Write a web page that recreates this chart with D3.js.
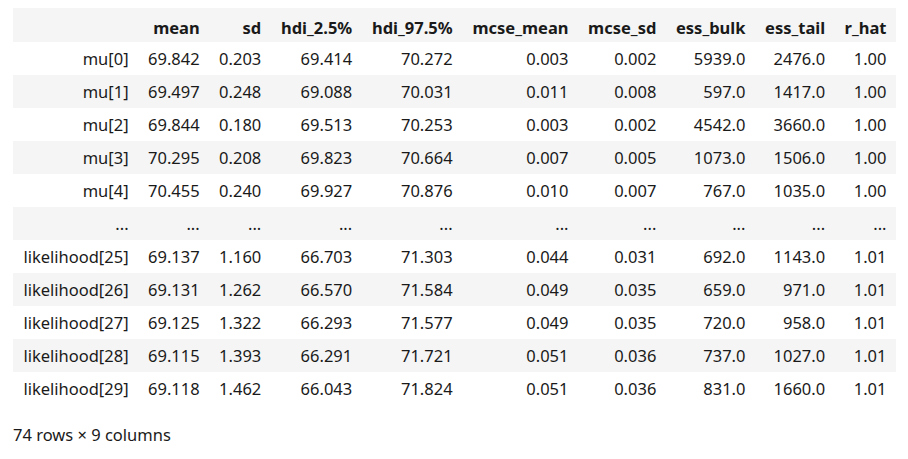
<!DOCTYPE html>
<html>
<head>
<meta charset="utf-8">
<script src="https://cdn.jsdelivr.net/npm/d3@7"></script>
<style>
  body { margin: 0; background: #fff; }
  svg text { font-family: "Noto Sans", "Open Sans", sans-serif; font-size: 16.5px; fill: #1a1a1a; }
</style>
</head>
<body>
<script>
// summary table data (pandas style, 74 rows truncated to 10 + ellipsis row)
var rowLabels = ["mu[0]", "mu[1]", "mu[2]", "mu[3]", "mu[4]", "...",
                 "likelihood[25]", "likelihood[26]", "likelihood[27]", "likelihood[28]", "likelihood[29]"];
var columns = ["mean", "sd", "hdi_2.5%", "hdi_97.5%", "mcse_mean", "mcse_sd", "ess_bulk", "ess_tail", "r_hat"];
var decimals = [3, 3, 3, 3, 3, 3, 1, 1, 2];

var mean     = [69.842, 69.497, 69.844, 70.295, 70.455, null, 69.137, 69.131, 69.125, 69.115, 69.118];
var sd       = [0.203, 0.248, 0.180, 0.208, 0.240, null, 1.160, 1.262, 1.322, 1.393, 1.462];
var hdiLow   = [69.414, 69.088, 69.513, 69.823, 69.927, null, 66.703, 66.570, 66.293, 66.291, 66.043];
var hdiHigh  = [70.272, 70.031, 70.253, 70.664, 70.876, null, 71.303, 71.584, 71.577, 71.721, 71.824];
var mcseMean = [0.003, 0.011, 0.003, 0.007, 0.010, null, 0.044, 0.049, 0.049, 0.051, 0.051];
var mcseSd   = [0.002, 0.008, 0.002, 0.005, 0.007, null, 0.031, 0.035, 0.035, 0.036, 0.036];
var essBulk  = [5939.0, 597.0, 4542.0, 1073.0, 767.0, null, 692.0, 659.0, 720.0, 737.0, 831.0];
var essTail  = [2476.0, 1417.0, 3660.0, 1506.0, 1035.0, null, 1143.0, 971.0, 958.0, 1027.0, 1660.0];
var rHat     = [1.00, 1.00, 1.00, 1.00, 1.00, null, 1.01, 1.01, 1.01, 1.01, 1.01];

var footer = "74 rows \u00d7 9 columns";

var series = [mean, sd, hdiLow, hdiHigh, mcseMean, mcseSd, essBulk, essTail, rHat];

var width = 908,
    height = 459,
    left = 13,
    right = 896,
    headTop = 8,
    headBottom = 42,
    bodyBottom = 405,
    pad = 9.5;

function cell(j, i) {
  var v = series[j][i];
  return v == null ? "..." : d3.format("." + decimals[j] + "f")(v);
}

var svg = d3.select("body").append("svg")
    .attr("width", width)
    .attr("height", height);

// measure text like an auto-layout html table would
var probe = svg.append("text");
function textWidth(s, bold) {
  probe.attr("font-weight", bold ? 700 : 400).text(s);
  return probe.node().getComputedTextLength();
}
var colWidths = [d3.max(rowLabels, function(s) { return textWidth(s); }) + 2 * pad];
columns.forEach(function(c, j) {
  var w = Math.max(textWidth(c, true), d3.max(rowLabels, function(_, i) { return textWidth(cell(j, i)); }));
  colWidths.push(w + 2 * pad);
});
probe.remove();

var edges = [0].concat(Array.from(d3.cumsum(colWidths)));
var total = edges[edges.length - 1];
var x = d3.scaleLinear()
    .domain([0, total])
    .range([left, right]);
var y = d3.scaleBand()
    .domain(d3.range(rowLabels.length))
    .range([headBottom, bodyBottom]);

function textRight(k) { return x(edges[k + 1]) - pad; }

// header band
svg.append("rect")
    .attr("x", x(0))
    .attr("y", headTop)
    .attr("width", x(total) - x(0))
    .attr("height", headBottom - headTop)
    .attr("fill", "#f5f5f5");

svg.append("g")
    .selectAll("text")
    .data(columns)
  .enter().append("text")
    .attr("x", function(d, j) { return textRight(j + 1); })
    .attr("y", headBottom - 8)
    .attr("text-anchor", "end")
    .attr("font-weight", 700)
    .text(function(d) { return d; });

// body rows (zebra)
var rows = svg.append("g")
    .selectAll("g")
    .data(rowLabels)
  .enter().append("g")
    .attr("transform", function(d, i) { return "translate(0," + y(i) + ")"; });

rows.append("rect")
    .attr("x", x(0))
    .attr("width", x(total) - x(0))
    .attr("height", y.bandwidth())
    .attr("fill", function(d, i) { return i % 2 ? "#f5f5f5" : "#fff"; });

rows.append("text")
    .attr("x", textRight(0))
    .attr("y", y.bandwidth() / 2)
    .attr("dy", "0.38em")
    .attr("text-anchor", "end")
    .text(function(d) { return d; });

rows.each(function(label, i) {
  d3.select(this).selectAll("text.v")
      .data(columns)
    .enter().append("text")
      .attr("class", "v")
      .attr("x", function(c, j) { return textRight(j + 1); })
      .attr("y", y.bandwidth() / 2)
      .attr("dy", "0.38em")
      .attr("text-anchor", "end")
      .text(function(c, j) { return cell(j, i); });
});

svg.append("text")
    .attr("x", left)
    .attr("y", 441)
    .text(footer);
</script>
</body>
</html>
